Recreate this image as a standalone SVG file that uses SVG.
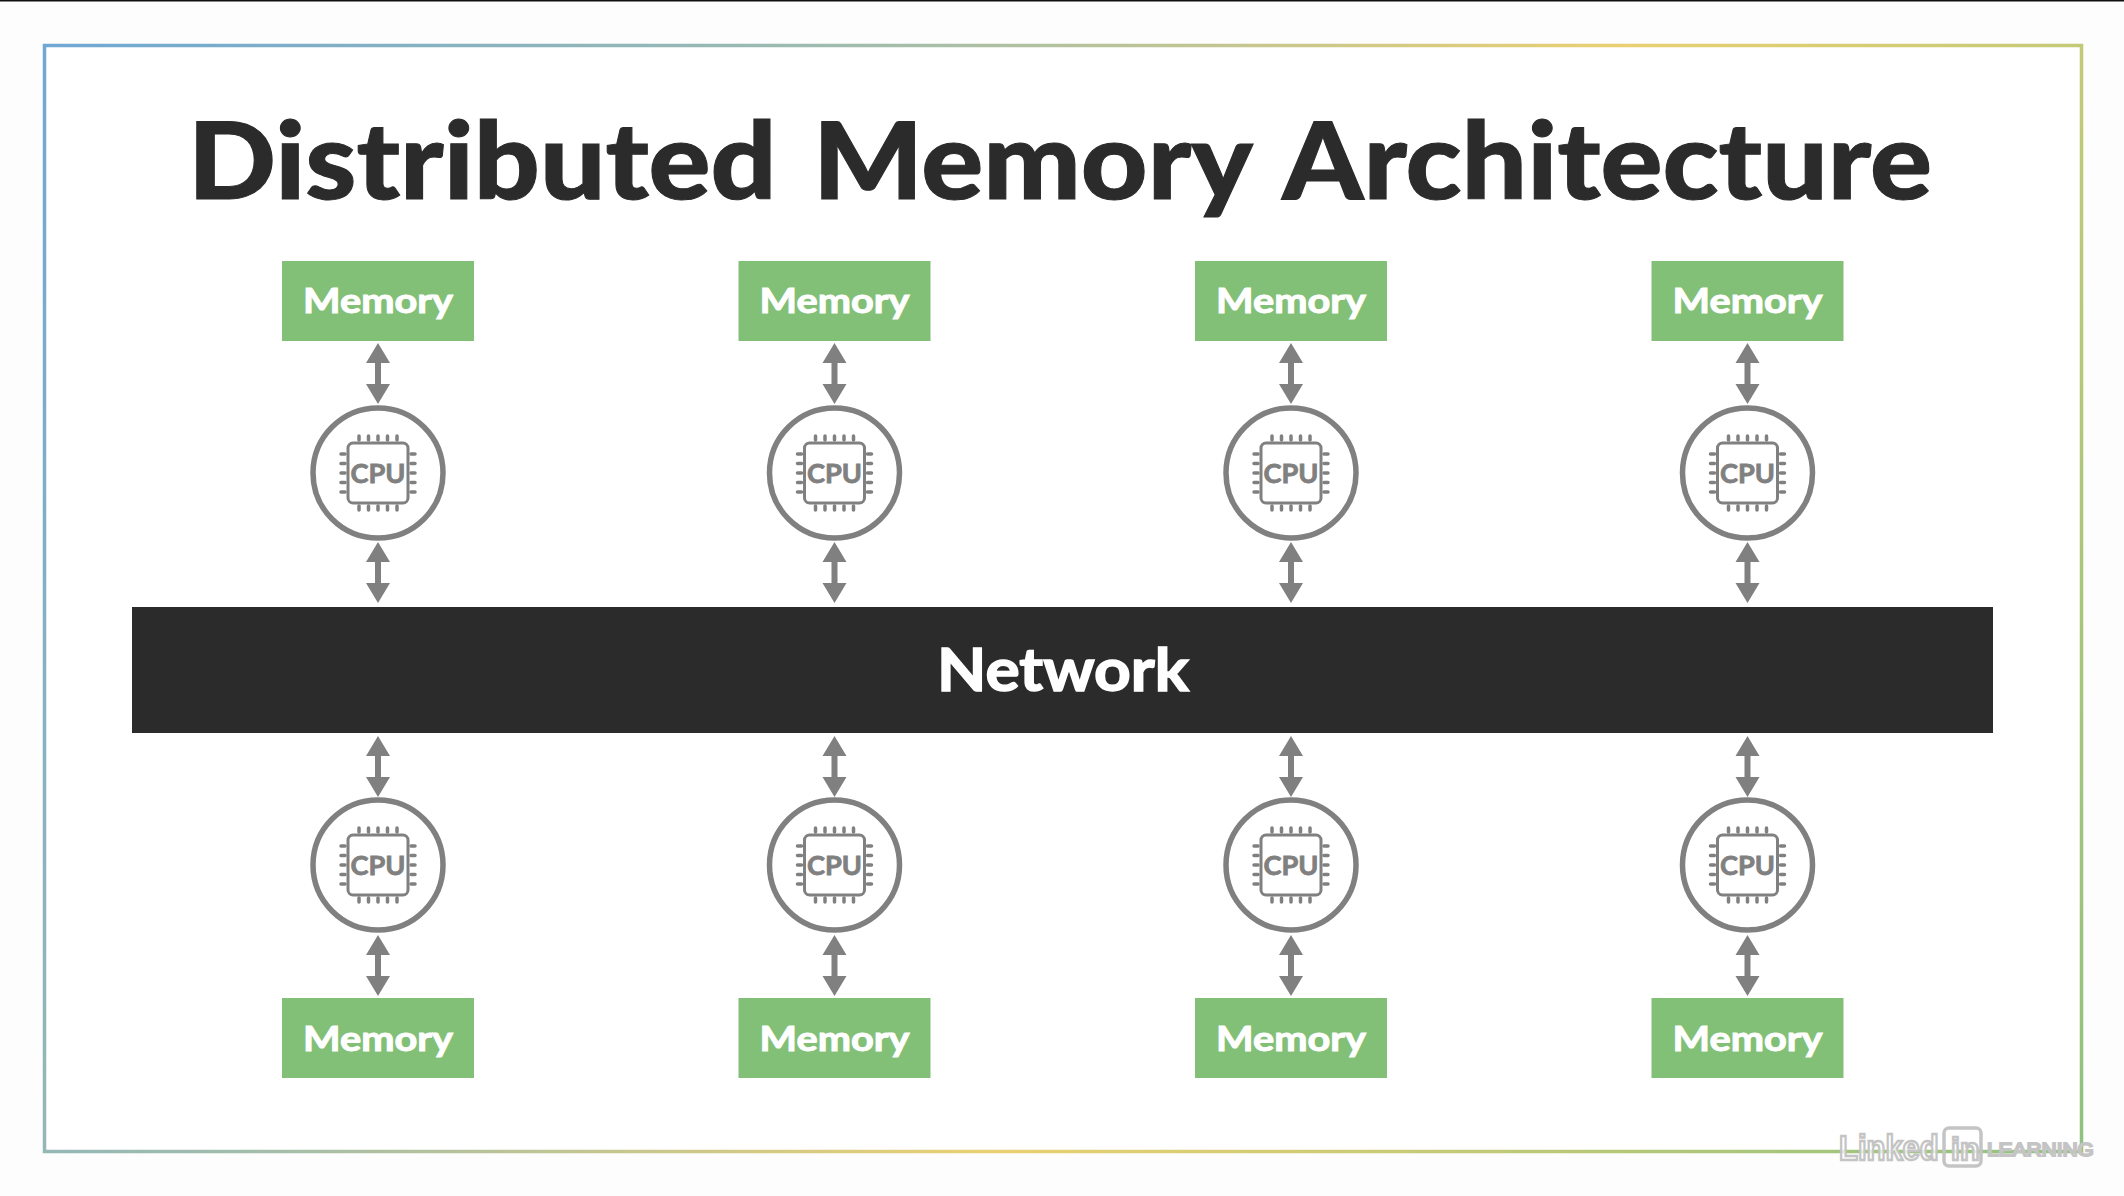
<svg xmlns="http://www.w3.org/2000/svg" width="2124" height="1196" viewBox="0 0 2124 1196">
<style>
.mem{fill:#83c077}
.mt{fill:#fff;stroke:#fff;stroke-width:1;font:700 35px "Lato","Liberation Sans",sans-serif;text-anchor:middle}
.ring{fill:#fff;stroke:#808080;stroke-width:5.500}
.chip{fill:none;stroke:#808080;stroke-width:3}
.pin{stroke:#808080;stroke-width:3.500;stroke-linecap:round}
.ct{fill:#808080;stroke:#808080;stroke-width:.8;font:700 27px "Lato","Liberation Sans",sans-serif;text-anchor:middle}
.arr{fill:#808080}
</style>
<defs>
<linearGradient id="fr" gradientUnits="userSpaceOnUse" x1="44" y1="45" x2="2059" y2="1184">
<stop offset="0" stop-color="#6fa8d4"/><stop offset="0.3" stop-color="#9fbcae"/><stop offset="0.594" stop-color="#ead072"/><stop offset="1" stop-color="#8fc27e"/>
</linearGradient>
<path id="a" class="arr" d="M0 0L12 20H3V41H12L0 61L-12 41H-3V20H-12Z"/>
<g id="cpu">
<rect class="ring" x="-65" y="-65" width="130" height="130" rx="65"/>
<rect class="chip" x="-30" y="-30" width="60" height="60" rx="5"/>
<path class="pin" d="M-19-33V-37M-9.500-33V-37M0-33V-37M9.500-33V-37M19-33V-37M-19 33V37M-9.500 33V37M0 33V37M9.500 33V37M19 33V37M-33-19H-37M-33-9.500H-37M-33 0H-37M-33 9.500H-37M-33 19H-37M33-19H37M33-9.500H37M33 0H37M33 9.500H37M33 19H37"/>
<text class="ct" y="10" textLength="55" lengthAdjust="spacingAndGlyphs">CPU</text>
</g>
<text id="m" class="mt" textLength="150" lengthAdjust="spacingAndGlyphs">Memory</text>
</defs>
<rect width="2124" height="1196" fill="#fdfdfd"/>
<rect width="2124" height="1.500" fill="#111"/>
<rect x="44.500" y="45.500" width="2037" height="1106" fill="#fff" stroke="url(#fr)" stroke-width="3.500"/>
<text x="188" y="199" textLength="1744" lengthAdjust="spacingAndGlyphs" word-spacing="8" font-family="Lato,'Liberation Sans',sans-serif" font-weight="900" font-size="106" fill="#2b2b2b" stroke="#2b2b2b" stroke-width="1">Distributed Memory Architecture</text>
<g id="connectors">
<use href="#a" x="378" y="343"/><use href="#a" x="378" y="542"/><use href="#a" x="378" y="736"/><use href="#a" x="378" y="935"/>
<use href="#a" x="834.500" y="343"/><use href="#a" x="834.500" y="542"/><use href="#a" x="834.500" y="736"/><use href="#a" x="834.500" y="935"/>
<use href="#a" x="1291" y="343"/><use href="#a" x="1291" y="542"/><use href="#a" x="1291" y="736"/><use href="#a" x="1291" y="935"/>
<use href="#a" x="1747.500" y="343"/><use href="#a" x="1747.500" y="542"/><use href="#a" x="1747.500" y="736"/><use href="#a" x="1747.500" y="935"/>
</g>
<g id="network"><rect x="132" y="607" width="1861" height="126" fill="#2b2b2b"/><text x="1063" y="691" textLength="252" lengthAdjust="spacingAndGlyphs" text-anchor="middle" font-family="Lato,'Liberation Sans',sans-serif" font-weight="700" font-size="60" fill="#fff" stroke="#fff" stroke-width="1.500">Network</text></g>
<g id="mem-t1"><rect class="mem" x="282" y="261" width="192" height="80"/><use href="#m" x="378" y="313"/></g>
<g id="mem-t2"><rect class="mem" x="738.500" y="261" width="192" height="80"/><use href="#m" x="834.500" y="313"/></g>
<g id="mem-t3"><rect class="mem" x="1195" y="261" width="192" height="80"/><use href="#m" x="1291" y="313"/></g>
<g id="mem-t4"><rect class="mem" x="1651.500" y="261" width="192" height="80"/><use href="#m" x="1747.500" y="313"/></g>
<g id="cpu-t1"><use href="#cpu" x="378" y="473"/></g>
<g id="cpu-t2"><use href="#cpu" x="834.500" y="473"/></g>
<g id="cpu-t3"><use href="#cpu" x="1291" y="473"/></g>
<g id="cpu-t4"><use href="#cpu" x="1747.500" y="473"/></g>
<g id="cpu-b1"><use href="#cpu" x="378" y="865"/></g>
<g id="cpu-b2"><use href="#cpu" x="834.500" y="865"/></g>
<g id="cpu-b3"><use href="#cpu" x="1291" y="865"/></g>
<g id="cpu-b4"><use href="#cpu" x="1747.500" y="865"/></g>
<g id="mem-b1"><rect class="mem" x="282" y="998" width="192" height="80"/><use href="#m" x="378" y="1051"/></g>
<g id="mem-b2"><rect class="mem" x="738.500" y="998" width="192" height="80"/><use href="#m" x="834.500" y="1051"/></g>
<g id="mem-b3"><rect class="mem" x="1195" y="998" width="192" height="80"/><use href="#m" x="1291" y="1051"/></g>
<g id="mem-b4"><rect class="mem" x="1651.500" y="998" width="192" height="80"/><use href="#m" x="1747.500" y="1051"/></g>
<g id="watermark" font-family="'Liberation Sans',sans-serif" font-weight="700" fill="#fff" fill-opacity=".75" stroke="#c4c4c4" stroke-width="2.500">
<text transform="translate(1839 1160) scale(.86 1)" font-size="36">Linked</text>
<rect x="1944" y="1128" width="37" height="38" rx="5" fill="none" stroke-width="3.500"/>
<text x="1951" y="1160" font-size="32">in</text>
<text transform="translate(1987 1156) scale(1.1 1)" font-size="19" font-weight="400" stroke-width="2">LEARNING</text>
</g>
</svg>
